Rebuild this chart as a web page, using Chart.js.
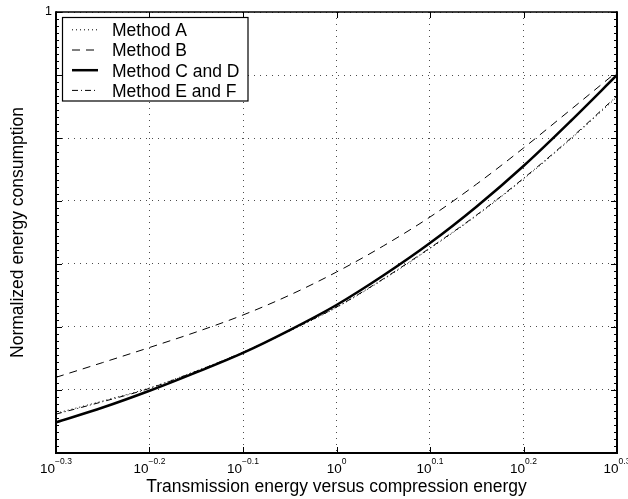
<!DOCTYPE html>
<html><head><meta charset="utf-8">
<script src="https://cdn.jsdelivr.net/npm/chart.js@4.4.1/dist/chart.umd.min.js"></script>
<style>html,body{margin:0;padding:0;background:#fff;}canvas{display:block;}</style>
</head><body>
<canvas id="c" width="628" height="499"></canvas>
<script>
// ---- data ----
const xValues   = [0.5012,0.5623,0.6310,0.7079,0.7943,0.8913,1.0000,1.1220,1.2589,1.4125,1.5849,1.7783,1.9953];
const methodA   = [0.2307,0.2413,0.2531,0.2693,0.2881,0.3117,0.3396,0.3762,0.4213,0.4753,0.5431,0.6275,0.7330];
const methodB   = [0.2631,0.2777,0.2934,0.3105,0.3304,0.3554,0.3866,0.4252,0.4727,0.5333,0.6083,0.6989,0.8039];
const methodCD  = [0.2232,0.2356,0.2505,0.2679,0.2877,0.3127,0.3427,0.3817,0.4298,0.4913,0.5696,0.6702,0.7943];
const methodEF  = [0.2300,0.2407,0.2527,0.2690,0.2884,0.3122,0.3401,0.3770,0.4222,0.4764,0.5445,0.6295,0.7360];
const seriesLabels = ['Method A','Method B','Method C and D','Method E and F'];
const xTickValues = [0.501187,0.630957,0.794328,1,1.258925,1.584893,1.995262];
const xTickExponents = ['\u22120.3','\u22120.2','\u22120.1','0','0.1','0.2','0.3'];
const yTickValues = [0.199526,0.251189,0.316228,0.398107,0.501187,0.630957,0.794328,1];
const yTickLabels = ['','','','','','','','1'];
const xTitle = 'Transmission energy versus compression energy';
const yTitle = 'Normalized energy consumption';

const FONT = "'Liberation Sans', Arial, Helvetica, sans-serif";
const pts = arr => arr.map((v, i) => ({x: xValues[i], y: v}));

const decor = {
  id: 'decor',
  afterDraw(chart) {
    const {ctx, chartArea: a, scales: {x, y}} = chart;
    ctx.save();
    ctx.setLineDash([]);
    ctx.strokeStyle = '#000';
    ctx.lineWidth = 1;
    ctx.beginPath();
    xTickValues.forEach(v => {
      const px = Math.round(x.getPixelForValue(v)) + 0.5;
      ctx.moveTo(px, a.bottom); ctx.lineTo(px, a.bottom - 6);
      ctx.moveTo(px, a.top); ctx.lineTo(px, a.top + 6);
    });
    yTickValues.forEach(v => {
      const py = Math.round(y.getPixelForValue(v)) + 0.5;
      ctx.moveTo(a.left, py); ctx.lineTo(a.left + 6, py);
      ctx.moveTo(a.right, py); ctx.lineTo(a.right - 6, py);
    });
    for (let i = 0; i < yTickValues.length - 1; i++) {
      const l0 = Math.log10(yTickValues[i]), l1 = Math.log10(yTickValues[i + 1]);
      for (let j = 1; j < 9; j++) {
        const py = Math.round(y.getPixelForValue(Math.pow(10, l0 + (l1 - l0) * j / 9))) + 0.5;
        ctx.moveTo(a.left, py); ctx.lineTo(a.left + 3, py);
        ctx.moveTo(a.right, py); ctx.lineTo(a.right - 3, py);
      }
    }
    ctx.stroke();
    // box
    ctx.lineWidth = 1.5;
    ctx.beginPath(); ctx.moveTo(a.left, a.top); ctx.lineTo(a.right, a.top); ctx.stroke();
    ctx.lineWidth = 2;
    ctx.beginPath();
    ctx.moveTo(a.left, a.top - 0.75); ctx.lineTo(a.left, a.bottom); ctx.lineTo(a.right, a.bottom); ctx.lineTo(a.right, a.top - 0.75);
    ctx.stroke();
    // x tick labels
    ctx.fillStyle = '#000';
    ctx.textAlign = 'left';
    ctx.textBaseline = 'alphabetic';
    xTickValues.forEach((v, i) => {
      const px = x.getPixelForValue(v);
      ctx.font = `13.5px ${FONT}`;
      const w1 = ctx.measureText('10').width;
      ctx.font = `8.5px ${FONT}`;
      const w2 = ctx.measureText(xTickExponents[i]).width;
      const x0 = px - (w1 + w2) / 2;
      ctx.font = `13.5px ${FONT}`;
      ctx.fillText('10', x0, 473);
      ctx.font = `8.5px ${FONT}`;
      ctx.fillText(xTickExponents[i], x0 + w1, 464);
    });
    // legend
    const bx = 62.5, by = 17.5, bw = 185.5, bh = 83.5;
    ctx.fillStyle = '#fff';
    ctx.fillRect(bx, by, bw, bh);
    ctx.lineWidth = 1.2;
    ctx.strokeStyle = '#000';
    ctx.strokeRect(bx, by, bw, bh);
    ctx.font = `17.5px ${FONT}`;
    ctx.fillStyle = '#000';
    chart.data.datasets.forEach((ds, i) => {
      const ry = 29.8 + i * 20.2;
      ctx.save();
      ctx.lineWidth = ds.borderWidth;
      ctx.setLineDash(ds.borderDash || []);
      ctx.beginPath(); ctx.moveTo(72, ry); ctx.lineTo(98, ry); ctx.stroke();
      ctx.restore();
      ctx.fillText(ds.label, 112, ry + 6.3);
    });
    ctx.restore();
  }
};

new Chart(document.getElementById('c'), {
  type: 'line',
  data: {
    datasets: [
      {label: seriesLabels[0], data: pts(methodA), borderColor: '#000', borderWidth: 1, borderDash: [1, 3]},
      {label: seriesLabels[1], data: pts(methodB), borderColor: '#000', borderWidth: 1, borderDash: [8, 6]},
      {label: seriesLabels[2], data: pts(methodCD), borderColor: '#000', borderWidth: 2.5, borderDash: []},
      {label: seriesLabels[3], data: pts(methodEF), borderColor: '#000', borderWidth: 1, borderDash: [6, 3, 1, 3]}
    ]
  },
  options: {
    responsive: false,
    animation: false,
    devicePixelRatio: 1,
    layout: {padding: {top: 12, right: 11, left: 0, bottom: 0}},
    elements: {point: {radius: 0}, line: {cubicInterpolationMode: 'monotone', fill: false}},
    plugins: {legend: {display: false}, tooltip: {enabled: false}},
    scales: {
      x: {
        type: 'logarithmic',
        min: xTickValues[0], max: xTickValues[xTickValues.length - 1],
        afterBuildTicks: s => { s.ticks = xTickValues.map(v => ({value: v})); },
        afterFit: s => { s.height = 46; },
        ticks: {display: false, autoSkip: false},
        grid: {color: 'rgba(0,0,0,0.7)', lineWidth: 1, drawTicks: false},
        border: {display: false, dash: [1, 5]},
        title: {display: true, text: xTitle, color: '#000', font: {family: FONT, size: 17.5}, padding: {top: 0, bottom: 1.5}}
      },
      y: {
        type: 'logarithmic',
        min: yTickValues[0], max: yTickValues[yTickValues.length - 1],
        afterBuildTicks: s => { s.ticks = yTickValues.map(v => ({value: v})); },
        afterFit: s => { s.width = 56; },
        ticks: {autoSkip: false, padding: 4, color: '#000', font: {family: FONT, size: 12.5},
                callback: (v, i) => yTickLabels[i]},
        grid: {color: 'rgba(0,0,0,0.7)', lineWidth: 1, drawTicks: false},
        border: {display: false, dash: [1, 5]},
        title: {display: true, text: yTitle, color: '#000', font: {family: FONT, size: 17.5}, padding: {top: 7.5, bottom: 0}}
      }
    }
  },
  plugins: [decor]
});
</script>
</body></html>
